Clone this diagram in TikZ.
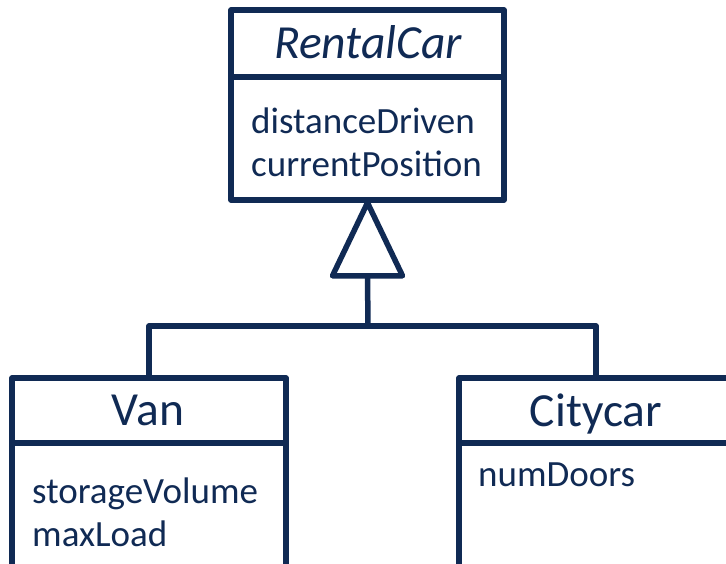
\documentclass[tikz,border=0pt]{standalone}
\usepackage{fontspec}
\setmainfont{Carlito}
\usetikzlibrary{calc}
\definecolor{navy}{RGB}{16,42,84}
\tikzset{
  umlbox/.style={draw=navy, line width=5.5pt, line join=round, rectangle, inner sep=0pt},
  umlline/.style={draw=navy, line width=5.5pt, line join=round},
  clsname/.style={text=navy, font=\fontsize{47.5}{52}\selectfont, anchor=base, inner sep=0pt},
  attrs/.style={text=navy, font=\fontsize{37}{42.5}\selectfont, anchor=base west, inner sep=0pt, align=left},
}
\begin{document}
\begin{tikzpicture}[x=1pt, y=-1pt]
\useasboundingbox (0,0) rectangle (726,563);
\clip (0,0) rectangle (726,563);
% boxes
\node[umlbox, minimum width=273pt, minimum height=190pt] (rcbox) at (367.5,105) {};
\node[umlbox, minimum width=274pt, minimum height=260pt] (vanbox) at (149,508) {};
\node[umlbox, minimum width=274pt, minimum height=260pt] (citybox) at (596,508) {};
% dividers
\draw[umlline] (rcbox.west |- 0,77) coordinate (rcdl) -- (rcbox.east |- 0,77) coordinate (rcdr);
\draw[umlline] (vanbox.west |- 0,443) coordinate (vdl) -- (vanbox.east |- 0,443) coordinate (vdr);
\draw[umlline] (citybox.west |- 0,443) coordinate (cdl) -- (citybox.east |- 0,443) coordinate (cdr);
% names
\node[clsname] (rcname) at (368,58) {\itshape RentalCar};
\node[clsname] (vanname) at (148,425) {Van};
\node[clsname] (cityname) at (596,426) {Citycar};
% attributes (base anchor = last line)
\node[attrs] (rcattr) at (251,176) {distanceDriven\\currentPosition};
\node[attrs] (vanattr) at (32,546) {storageVolume\\maxLoad};
\node[attrs] (cityattr) at (478,486) {numDoors};
% generalization
\draw[umlline] (rcbox.south) -- ++(-35,73) coordinate (tl) -- ++(70,0) coordinate (tr) -- cycle;
\coordinate (tb) at ($(tl)!0.5!(tr)$);
\coordinate (junction) at (368,326);
\draw[umlline] (tb) -- (junction);
\draw[umlline] (vanbox.north) |- (junction) -| (citybox.north);
\end{tikzpicture}
\end{document}
